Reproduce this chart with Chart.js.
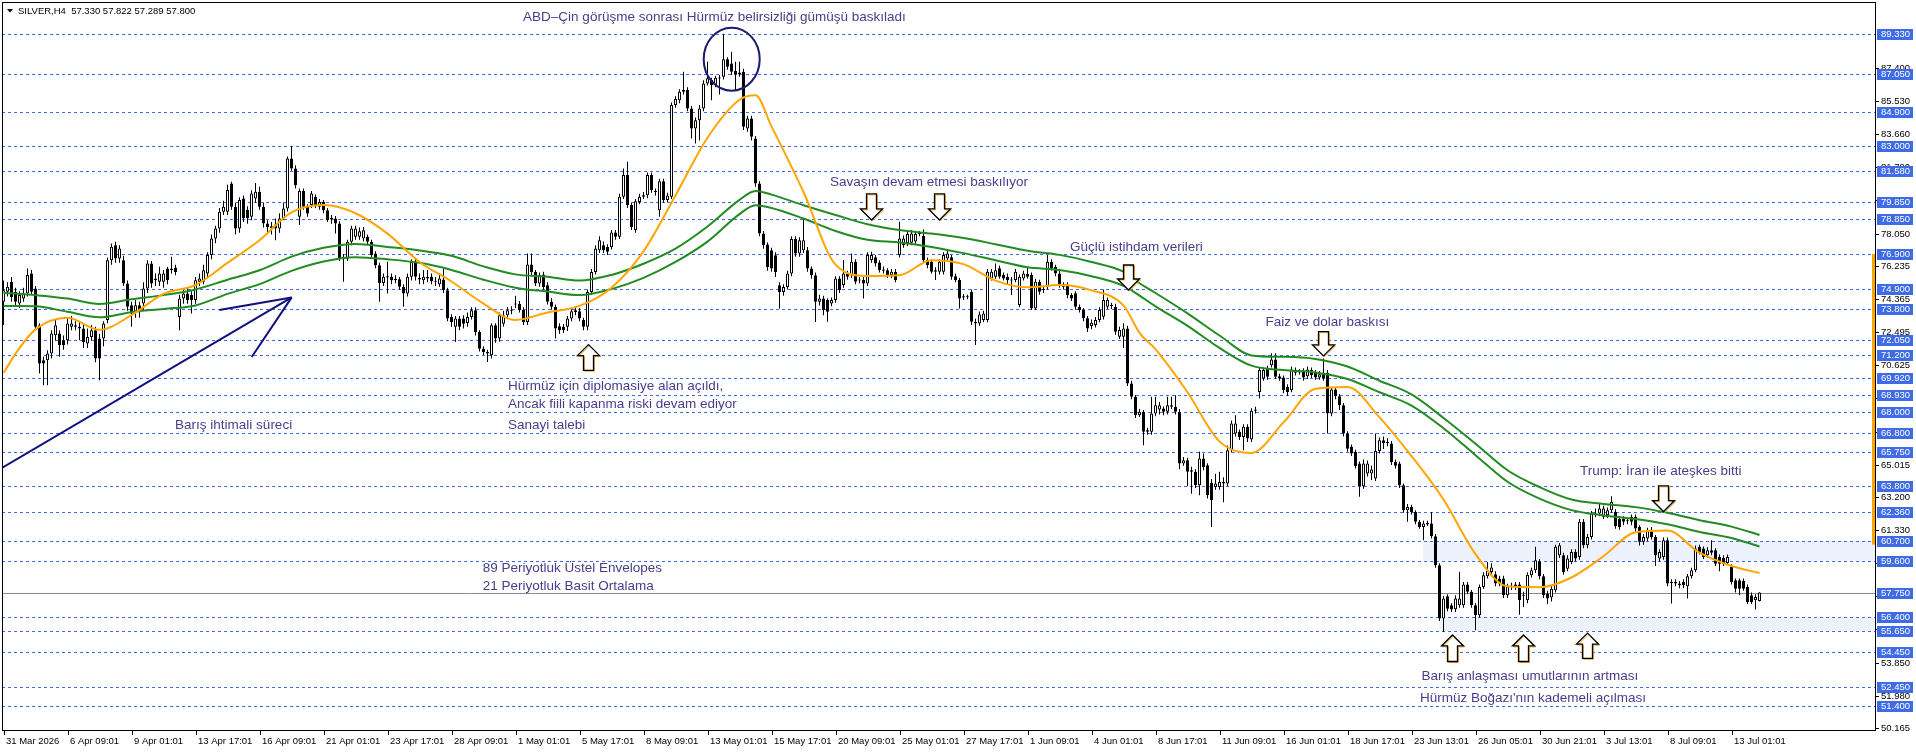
<!DOCTYPE html>
<html>
<head>
<meta charset="utf-8">
<script src="https://cdn.jsdelivr.net/npm/chart.js@4.4.1/dist/chart.umd.min.js"></script>
<style>
  html, body { margin: 0; padding: 0; background: #fff; overflow: hidden; }
  canvas { display: block; }
</style>
</head>
<body>
<canvas id="myChart" width="1916" height="752"></canvas>
<script>
// SILVER H4, 440 bars
const opens = [
74.20,74.77,75.33,74.77,74.11,74.39,74.67,75.80,74.95,72.88,
70.91,70.91,71.28,72.32,72.41,72.04,72.04,72.79,72.88,72.79,
72.70,71.85,72.22,72.60,72.13,72.13,73.17,76.55,77.40,76.64,
76.55,75.24,74.01,73.64,74.01,74.11,74.95,76.37,75.52,75.33,
75.33,76.08,76.08,76.14,73.35,74.39,74.67,74.58,74.30,75.33,
75.33,75.80,76.84,77.78,78.34,79.28,79.28,80.88,79.56,78.34,
80.03,79.38,79.00,80.03,80.41,79.56,78.62,78.34,78.56,78.34,
78.90,79.47,82.29,81.73,79.00,80.45,79.56,79.66,80.13,79.56,
79.84,79.37,78.85,78.90,78.62,76.74,76.65,77.59,77.87,77.87,
77.77,77.87,77.59,76.93,76.27,75.27,75.58,75.61,75.42,75.48,
75.05,74.67,75.61,76.46,75.55,75.42,75.61,75.61,75.38,75.20,
75.46,74.86,73.35,72.79,73.26,73.26,73.01,73.35,73.73,72.50,
71.56,71.37,71.19,72.88,72.13,72.97,73.45,73.70,74.05,74.10,
73.76,73.07,76.31,75.89,75.23,75.74,75.14,74.20,73.92,72.83,
72.79,72.79,73.26,73.63,73.67,73.17,72.79,74.76,75.89,77.11,
77.40,77.30,77.30,78.11,77.87,80.13,81.35,79.66,78.24,79.84,
80.13,80.22,81.35,80.45,79.37,81.01,79.94,80.13,85.30,85.58,
86.15,86.15,85.11,83.98,84.45,85.11,86.52,86.71,86.43,86.80,
86.90,87.88,87.65,87.22,87.03,87.18,83.98,84.55,83.42,80.88,
78.06,77.43,77.11,76.83,75.14,74.76,75.04,75.80,77.74,76.93,
77.11,77.11,76.08,75.70,74.20,74.39,74.30,74.11,74.30,75.52,
75.15,75.80,75.71,76.46,75.40,75.43,75.24,76.56,76.71,76.42,
75.95,75.99,75.71,75.90,76.84,77.41,77.50,77.54,77.60,78.03,
77.91,76.56,76.46,75.90,75.90,75.90,76.65,76.71,75.65,75.43,
74.45,74.52,74.77,72.98,72.98,73.17,73.17,75.52,75.62,76.09,
75.71,75.62,75.45,75.43,74.02,75.52,75.77,75.71,73.83,75.34,
74.87,75.05,76.46,76.18,75.80,75.15,75.15,74.58,74.68,73.92,
73.74,73.27,72.83,72.89,73.17,73.36,73.92,73.96,73.92,72.23,
72.23,72.70,69.60,68.84,67.81,68.00,66.87,66.87,67.90,68.13,
68.18,68.00,68.28,68.28,68.00,65.08,65.27,64.70,64.61,63.85,
65.36,64.98,63.99,63.76,63.76,64.04,63.95,65.83,66.77,66.87,
66.58,67.15,66.43,68.05,69.12,69.88,70.44,70.63,70.95,70.01,
69.93,69.41,69.22,70.35,70.22,70.31,70.01,70.35,70.20,69.93,
70.20,70.20,67.90,69.26,68.88,68.37,66.77,66.02,65.74,65.08,
63.80,64.51,64.51,64.23,65.79,66.39,66.24,66.21,65.17,65.08,
63.85,62.45,62.63,62.35,61.79,61.50,61.64,61.69,60.98,59.34,
56.33,57.59,57.08,56.86,57.08,57.08,58.25,57.84,57.08,56.52,
58.12,58.72,58.96,58.83,58.59,58.59,57.65,58.12,58.25,58.25,
57.62,57.36,58.78,59.06,59.56,58.72,57.74,57.52,57.93,59.90,
59.90,59.15,59.53,60.09,59.81,61.79,60.47,60.94,62.16,62.26,
62.07,62.16,62.45,62.35,61.97,61.97,61.82,62.07,62.07,61.50,
60.66,60.85,61.35,60.94,59.72,59.81,60.75,58.33,58.40,58.21,
58.40,58.15,58.72,59.06,60.37,60.28,59.90,60.19,60.19,59.81,
59.77,59.47,59.25,58.49,58.49,58.45,58.12,57.65,57.36,57.330
];
const highs = [
75.40,75.30,75.60,75.00,74.80,75.00,76.08,76.00,75.10,73.00,
71.10,71.47,72.60,73.20,72.60,72.30,73.30,73.40,73.10,73.10,
72.90,72.70,72.90,72.80,72.40,73.10,76.70,77.49,77.59,77.40,
76.80,75.40,74.20,74.30,74.20,75.30,76.55,76.50,75.80,76.18,
76.00,76.18,76.74,76.30,74.60,74.90,75.00,74.80,75.60,75.80,
76.30,77.00,78.00,78.50,79.50,79.90,80.80,80.98,79.80,80.10,
80.20,79.60,80.50,80.90,80.70,79.80,78.80,78.70,78.90,79.20,
79.80,82.40,82.99,81.90,80.60,80.60,79.70,80.45,80.25,80.00,
79.95,79.50,79.10,79.05,78.75,76.90,77.70,78.50,78.50,78.40,
78.43,78.00,77.70,77.05,76.40,75.80,76.46,75.80,75.70,75.60,
75.20,75.80,76.60,76.65,75.80,76.00,76.00,75.80,75.60,75.80,
76.08,75.00,73.50,73.40,73.40,73.45,73.60,73.90,73.90,72.60,
71.70,71.50,73.00,73.00,73.60,73.70,73.90,73.95,74.55,74.25,
73.90,76.93,76.93,76.00,75.85,75.90,75.30,74.40,74.05,73.00,
72.95,73.40,73.85,73.95,73.85,73.30,74.90,76.05,77.40,77.90,
77.60,77.45,78.25,78.25,80.30,81.73,82.10,79.80,80.00,80.30,
80.40,81.50,81.50,80.60,81.15,81.15,80.35,85.45,85.80,86.20,
87.18,86.30,85.25,84.60,85.30,86.70,87.75,86.85,86.95,87.00,
89.29,88.00,88.31,87.75,87.75,87.35,84.70,84.70,83.55,81.00,
78.20,77.55,77.25,77.00,75.30,75.20,75.95,77.90,77.90,77.85,
78.90,77.30,76.20,75.85,74.60,74.55,74.40,74.45,75.65,75.65,
76.56,75.95,76.93,76.60,75.60,75.60,77.00,77.03,76.85,76.55,
76.20,76.10,76.05,76.05,78.72,77.95,78.20,78.25,78.20,78.20,
78.30,76.70,76.60,76.15,76.60,77.00,77.10,76.85,75.80,75.55,
74.65,74.60,74.90,73.25,73.65,73.70,76.05,76.05,76.37,76.25,
75.85,75.80,75.60,76.05,75.75,75.95,76.15,75.85,75.50,75.45,
75.10,76.84,76.60,76.30,75.95,75.30,75.30,74.70,74.80,74.05,
73.85,73.40,73.20,73.35,73.90,74.90,74.45,74.15,74.10,72.80,
73.00,72.85,69.75,68.95,68.15,68.10,67.10,68.84,68.84,68.55,
68.30,68.84,68.84,68.93,68.15,65.45,65.40,64.90,64.75,65.74,
65.64,65.10,64.20,64.50,64.61,64.30,66.10,67.50,67.81,67.00,
67.30,67.30,68.20,68.28,70.50,70.50,70.60,71.30,71.30,70.15,
70.05,69.55,70.55,70.50,70.40,70.45,70.55,70.50,70.35,70.30,
71.00,70.35,69.40,69.40,69.00,68.50,66.90,66.15,65.85,65.20,
65.30,65.25,64.95,66.77,66.55,66.60,66.50,66.35,65.30,65.20,
63.95,62.80,62.75,62.45,61.90,61.85,61.85,62.35,61.10,59.45,
57.60,57.70,57.20,57.65,58.97,58.40,58.40,57.95,57.20,58.25,
58.95,59.53,59.45,59.00,58.75,58.75,58.30,58.35,58.40,58.40,
57.85,58.95,59.20,60.38,59.70,58.85,57.90,58.20,60.50,60.60,
60.05,59.90,60.25,60.25,61.95,61.95,61.10,62.40,62.54,62.85,
62.70,62.60,63.24,62.50,62.10,62.10,62.00,62.20,62.20,61.60,
61.10,61.45,61.50,61.05,60.25,60.90,60.90,58.55,58.55,58.45,
58.55,58.85,59.20,60.45,60.50,60.40,60.35,60.75,60.30,59.95,
59.90,59.95,59.40,58.60,58.60,58.60,58.25,57.80,57.70,57.822
];
const lows = [
72.90,74.50,74.20,73.95,73.85,74.20,74.50,74.60,72.60,70.16,
69.50,69.50,71.00,72.00,71.10,71.50,71.80,72.60,72.60,72.04,
71.60,71.60,72.00,70.80,69.78,71.70,73.00,76.30,76.40,76.40,
75.10,73.70,72.79,73.30,73.30,73.70,74.70,75.00,75.10,75.10,
75.00,75.20,75.80,75.70,72.60,74.10,74.10,73.54,74.10,75.10,
75.20,75.60,76.60,77.50,78.10,79.10,79.10,79.40,78.00,78.10,
78.70,78.60,78.80,79.80,79.40,78.40,78.06,78.00,77.68,78.10,
78.80,79.30,81.60,80.60,78.53,79.40,79.00,79.50,79.50,79.40,
79.20,78.70,78.60,78.06,76.50,75.33,76.50,77.40,77.70,77.70,
77.60,77.40,76.70,76.10,74.20,75.10,74.67,75.20,75.25,74.90,
73.92,74.50,75.40,75.40,75.20,75.20,75.30,75.20,75.10,75.05,
74.70,73.10,72.80,71.94,72.60,72.70,72.80,73.20,72.30,71.40,
71.20,70.81,71.00,71.90,71.95,72.80,73.30,73.50,73.85,73.60,
72.90,72.90,75.70,75.10,75.05,74.90,74.05,73.75,72.13,72.40,
72.45,72.55,73.10,73.45,73.10,72.60,72.60,74.60,75.75,76.95,
76.95,76.85,77.15,77.70,77.75,80.00,79.50,78.25,78.10,79.70,
80.00,80.05,80.35,80.20,79.00,79.80,79.80,80.00,85.15,85.40,
85.90,84.95,83.42,83.14,83.30,84.95,86.40,85.58,86.30,85.90,
86.75,87.30,87.00,86.15,86.90,83.90,83.80,83.30,80.70,77.90,
77.20,75.95,75.90,75.60,73.82,74.55,74.90,75.65,76.75,76.75,
76.95,75.90,75.50,73.07,74.00,73.45,73.08,73.95,74.15,74.70,
75.00,75.45,75.55,75.20,75.25,74.39,75.10,76.40,76.20,75.85,
75.80,75.55,75.55,75.30,76.70,77.25,77.35,77.40,77.45,77.90,
76.40,76.10,75.80,75.43,75.75,75.75,76.50,75.45,75.30,73.83,
74.30,74.35,72.90,71.76,72.85,73.05,73.05,75.40,75.50,75.50,
75.40,75.20,74.58,75.30,73.90,75.40,75.50,73.74,73.74,74.60,
74.70,74.90,75.95,75.65,75.00,74.90,74.40,74.25,73.75,73.60,
73.10,72.50,72.65,72.75,73.05,73.20,73.80,73.80,72.35,72.10,
71.60,69.45,68.70,67.65,67.70,66.11,66.70,66.70,67.75,67.85,
67.80,67.85,68.15,67.85,64.75,64.95,63.80,63.38,63.70,63.29,
64.70,63.10,61.50,63.60,63.60,62.90,63.80,65.70,66.60,66.40,
65.83,66.30,66.30,67.90,68.75,69.75,69.80,70.50,69.85,69.75,
69.05,68.90,69.10,70.05,70.10,69.75,69.85,69.90,69.80,69.80,
69.75,66.77,67.75,68.70,68.10,66.60,65.75,65.50,64.80,63.20,
63.65,64.35,64.15,64.10,65.65,65.90,66.05,65.00,64.80,63.70,
62.30,61.79,62.20,61.65,61.40,60.75,61.55,60.85,59.20,56.20,
55.58,56.75,56.70,56.70,56.95,56.95,57.70,56.95,55.67,56.40,
58.00,58.60,58.80,58.15,58.15,57.50,57.50,57.95,57.95,56.55,
56.99,57.20,58.65,58.90,58.55,57.50,57.15,57.30,57.80,59.75,
58.80,59.00,59.40,59.55,59.65,60.30,60.30,60.80,62.05,62.10,
61.95,62.00,62.30,61.40,61.35,61.60,61.65,61.60,61.25,60.45,
60.50,60.70,60.80,59.30,59.55,59.65,58.15,57.18,58.15,58.05,
58.05,57.46,58.60,58.95,59.95,59.70,59.75,59.90,59.30,59.00,
59.30,59.35,58.25,57.80,57.65,57.90,57.15,57.15,56.84,57.289
];
const closes = [
74.86,75.05,74.48,74.20,74.58,74.67,75.71,74.77,72.79,70.72,
70.72,71.28,72.41,72.88,71.75,71.75,72.98,72.98,72.79,72.70,
71.94,72.22,72.60,71.00,71.00,72.98,76.55,77.31,76.64,77.21,
75.24,73.92,73.54,74.01,73.64,74.95,76.37,75.24,75.42,75.80,
75.80,75.42,75.99,75.89,74.39,74.67,74.30,74.30,75.42,75.52,
75.99,76.84,77.78,78.34,79.28,79.56,80.51,79.56,78.34,79.94,
78.91,78.91,80.32,80.41,79.56,78.62,78.43,78.47,78.34,78.90,
79.47,82.29,81.73,80.78,80.45,79.56,79.18,80.31,79.66,79.84,
79.37,78.81,78.95,78.62,76.65,76.65,77.59,78.34,78.34,78.19,
78.24,77.59,76.83,76.27,75.27,75.61,75.64,75.42,75.50,75.05,
74.67,75.61,76.46,75.61,75.46,75.61,75.52,75.38,75.33,75.52,
74.86,73.26,73.07,73.26,72.79,72.97,73.35,73.73,72.50,71.56,
71.37,71.28,72.88,72.13,73.45,73.45,73.73,73.76,74.10,73.73,
73.07,76.31,75.89,75.23,75.70,75.04,74.20,73.92,72.69,72.60,
72.60,73.26,73.67,73.73,73.26,72.79,74.76,75.89,77.21,77.68,
77.11,77.02,78.11,77.87,80.13,81.35,79.66,78.43,79.88,80.13,
80.22,81.35,80.50,80.40,81.01,79.94,80.20,85.30,85.64,86.05,
86.05,85.11,83.98,84.45,85.11,86.52,86.81,86.43,86.84,86.86,
87.88,87.47,87.18,87.03,87.14,84.08,84.55,83.51,80.88,78.06,
77.40,76.17,76.08,75.89,74.76,75.04,75.80,77.74,76.93,77.68,
77.68,76.08,75.70,74.20,74.39,73.74,73.64,74.30,75.52,74.87,
75.80,75.62,76.46,75.34,75.46,75.24,76.84,76.84,76.37,75.99,
76.02,75.71,75.90,75.43,77.78,77.78,78.03,78.06,78.03,78.08,
76.56,76.28,75.90,75.99,76.46,76.84,76.93,75.62,75.43,74.39,
74.52,74.49,73.08,73.08,73.49,73.55,75.90,75.90,75.99,75.62,
75.52,75.43,75.40,75.90,75.62,75.80,75.62,73.83,75.34,74.77,
74.93,76.46,76.09,75.80,75.15,75.05,74.58,74.39,73.92,73.74,
73.27,72.70,73.02,73.17,73.74,74.30,74.30,73.99,72.51,72.61,
72.70,69.60,68.84,67.81,68.00,66.87,66.96,67.90,68.37,68.37,
68.00,68.37,68.37,68.00,65.08,65.27,64.61,64.61,63.85,65.36,
64.89,63.29,63.01,63.95,64.04,63.95,65.83,67.34,67.34,66.58,
67.15,66.49,68.05,68.13,70.35,70.35,69.97,70.95,69.97,69.88,
69.22,69.12,70.38,70.20,70.28,69.93,70.38,70.06,69.93,70.12,
69.88,67.90,69.26,68.88,68.37,66.77,65.92,65.64,64.93,63.80,
65.08,65.08,64.74,65.79,66.39,66.24,66.30,65.17,64.95,63.85,
62.44,62.63,62.35,61.79,61.50,61.69,61.73,60.98,59.34,56.33,
57.46,56.89,56.84,57.46,57.46,58.25,57.84,57.08,56.52,58.12,
58.78,59.02,59.21,58.31,58.31,57.65,58.15,58.18,58.12,57.36,
57.68,58.81,59.06,59.62,58.72,57.65,57.46,58.02,60.38,60.47,
58.96,59.72,60.09,59.72,61.79,60.47,60.94,62.26,62.26,62.54,
62.54,62.45,62.92,61.54,61.50,61.79,61.88,61.79,61.41,60.66,
60.94,61.32,60.94,59.90,60.09,60.75,58.31,58.40,58.31,58.31,
58.21,58.72,59.06,60.28,60.09,59.81,60.19,60.04,59.43,59.43,
59.43,59.81,58.40,58.02,58.02,58.02,57.27,57.27,57.55,57.800
];

// indicator values read at these bar numbers
const maIndex = [0,4,8,16,24,32,40,48,56,64,72,80,88,96,104,112,120,128,136,144,152,160,168,176,184,188,192,200,208,216,224,232,240,248,256,264,272,280,284,288,296,304,312,320,328,336,344,352,360,368,376,384,392,400,408,416,424,432,439];
const sma21 = [70.19,71.60,72.65,73.30,72.62,73.45,74.65,75.15,76.40,77.68,79.25,79.66,79.20,78.05,76.45,75.35,74.10,73.18,73.60,73.97,75.00,77.05,80.20,83.46,85.60,85.85,84.10,80.40,76.30,75.66,75.70,76.55,76.33,75.40,75.02,75.15,74.85,74.00,72.45,71.53,69.10,66.33,65.68,67.40,69.30,69.40,67.68,65.50,63.05,59.97,58.15,58.10,58.65,59.85,61.20,61.30,60.05,59.30,58.90];
const envUpper = [74.70,74.65,74.58,74.39,74.08,74.35,74.58,74.90,75.45,75.98,76.75,77.25,77.47,77.30,77.10,76.80,76.20,75.75,75.62,75.40,75.72,76.35,77.20,78.45,79.95,80.45,80.25,79.65,79.10,78.58,78.25,78.05,77.80,77.45,77.08,76.85,76.45,75.90,75.25,74.70,73.55,72.30,71.18,71.10,70.98,70.55,69.75,68.98,67.65,66.20,64.70,63.75,63.05,62.80,62.62,62.30,61.88,61.52,61.05];
const envLower = [73.96,73.96,73.95,73.64,73.33,73.62,73.80,74.00,74.65,75.20,75.95,76.48,76.72,76.60,76.40,76.00,75.45,75.00,74.78,74.58,74.92,75.55,76.45,77.60,79.15,79.65,79.50,78.90,78.20,77.70,77.55,77.30,76.95,76.55,76.15,76.00,75.65,75.10,74.55,73.95,72.85,71.60,70.60,70.35,70.22,69.85,69.10,68.35,67.07,65.55,64.05,63.10,62.45,62.15,61.95,61.65,61.22,60.88,60.40];

const timeLabels = ['31 Mar 2026','6 Apr 09:01','9 Apr 01:01','13 Apr 17:01','16 Apr 09:01','21 Apr 01:01','23 Apr 17:01','28 Apr 09:01','1 May 01:01','5 May 17:01','8 May 09:01','13 May 01:01','15 May 17:01','20 May 09:01','25 May 01:01','27 May 17:01','1 Jun 09:01','4 Jun 01:01','8 Jun 17:01','11 Jun 09:01','16 Jun 01:01','18 Jun 17:01','23 Jun 13:01','26 Jun 05:01','30 Jun 21:01','3 Jul 13:01','8 Jul 09:01','13 Jul 01:01'];
const labelStep = 16;
const priceTicks = [87.400,85.530,83.660,81.790,79.920,78.050,76.235,74.365,72.495,70.625,68.755,66.885,65.015,63.200,61.330,59.460,57.590,55.720,53.850,51.980,50.165];
const levels = [89.33,87.05,84.90,83.00,81.58,79.85,78.85,76.90,74.90,73.80,72.05,71.20,69.92,68.93,68.00,66.80,65.75,63.80,62.36,60.70,59.60,57.75,56.40,55.65,54.45,52.45,51.40];
const priceLine = 57.75;

const TEXT = '#483D8B';
const AXIS_FONT = '9.5px "Liberation Sans", Arial, sans-serif';
const NOTE_FONT = '13.5px "Liberation Sans", Arial, sans-serif';

// chart objects anchored at (bar, price)
const zones = [
  { from: 354.9, hi: 60.70, lo: 59.60 },
  { from: 358.9, hi: 56.40, lo: 55.65 }
];
const notes = [
  { t: 'ABD\u2013Çin görüşme sonrası Hürmüz belirsizliği gümüşü baskıladı', i: 129.9, p: 90.27 },
  { t: 'Savaşın devam etmesi baskılıyor', i: 206.6, p: 80.96 },
  { t: 'Güçlü istihdam verileri', i: 266.6, p: 77.30 },
  { t: 'Faiz ve dolar baskısı', i: 315.5, p: 73.03 },
  { t: 'Trump: İran ile ateşkes bitti', i: 394.1, p: 64.62 },
  { t: 'Hürmüz için diplomasiye alan açıldı,', i: 126.1, p: 69.45 },
  { t: 'Ancak fiili kapanma riski devam ediyor', i: 126.1, p: 68.44 },
  { t: 'Sanayi talebi', i: 126.1, p: 67.26 },
  { t: 'Barış ihtimali süreci', i: 42.9, p: 67.26 },
  { t: '89 Periyotluk Üstel Envelopes', i: 119.8, p: 59.18 },
  { t: '21 Periyotluk Basit Ortalama', i: 119.8, p: 58.14 },
  { t: 'Barış anlaşması umutlarının artması', i: 354.5, p: 53.09 },
  { t: 'Hürmüz Boğazı\'nın kademeli açılması', i: 354.1, p: 51.84 }
];
// base price -> tip price
const arrows = [
  { i: 216.9, base: 80.29, tip: 78.82 },
  { i: 233.9, base: 80.29, tip: 78.82 },
  { i: 281.0, base: 76.28, tip: 74.87 },
  { i: 329.95, base: 72.52, tip: 71.15 },
  { i: 414.75, base: 63.82, tip: 62.37 },
  { i: 146.1, base: 70.34, tip: 71.79 },
  { i: 362.05, base: 53.91, tip: 55.41 },
  { i: 379.9, base: 53.91, tip: 55.41 },
  { i: 395.9, base: 54.09, tip: 55.51 }
];
const trendLines = [
  [[-0.875, 64.77], [72.05, 74.45]],
  [[53.95, 73.74], [72.05, 74.45]],
  [[62.05, 71.09], [72.05, 74.45]]
];
const circle = { i: 182.05, p: 87.89 };

function blockArrow(ctx, cx, yBase, yTip) {
  const dir = yTip > yBase ? 1 : -1;
  const neck = yTip - dir * 11;
  ctx.beginPath();
  ctx.moveTo(cx - 5, yBase);
  ctx.lineTo(cx + 5, yBase);
  ctx.lineTo(cx + 5, neck);
  ctx.lineTo(cx + 11, neck);
  ctx.lineTo(cx, yTip);
  ctx.lineTo(cx - 11, neck);
  ctx.lineTo(cx - 5, neck);
  ctx.closePath();
}

const mt4Look = {
  id: 'mt4Look',
  beforeDraw(chart) {
    const { ctx, width, height } = chart;
    ctx.save();
    ctx.fillStyle = '#fff';
    ctx.fillRect(0, 0, width, height);
    ctx.restore();
  },
  beforeDatasetsDraw(chart) {
    const { ctx, chartArea: a, scales: { x, y } } = chart;
    ctx.save();
    ctx.fillStyle = '#ECF1FB';
    zones.forEach(z => {
      const left = x.getPixelForValue(z.from);
      const top = y.getPixelForValue(z.hi), bot = y.getPixelForValue(z.lo);
      ctx.fillRect(left, top, a.right - left, bot - top);
    });
    ctx.lineWidth = 1;
    levels.forEach(v => {
      const py = Math.round(y.getPixelForValue(v)) + 0.5;
      if (v === priceLine) {
        ctx.setLineDash([]);
        ctx.strokeStyle = '#7F8CA6';
      } else {
        ctx.setLineDash([3, 3]);
        ctx.strokeStyle = '#3F6BE6';
      }
      ctx.beginPath();
      ctx.moveTo(a.left, py);
      ctx.lineTo(a.right, py);
      ctx.stroke();
    });
    ctx.restore();
  },
  afterDatasetsDraw(chart) {
    const { ctx, chartArea: a, scales: { x, y } } = chart;
    ctx.save();
    ctx.beginPath();
    ctx.rect(a.left, a.top, a.right - a.left, a.bottom - a.top);
    ctx.clip();

    // trend lines
    ctx.strokeStyle = '#10107E';
    ctx.lineWidth = 2;
    trendLines.forEach(([p1, p2]) => {
      ctx.beginPath();
      ctx.moveTo(x.getPixelForValue(p1[0]), y.getPixelForValue(p1[1]));
      ctx.lineTo(x.getPixelForValue(p2[0]), y.getPixelForValue(p2[1]));
      ctx.stroke();
    });

    // circle round the top
    ctx.strokeStyle = '#1A1A6E';
    ctx.lineWidth = 2;
    ctx.beginPath();
    ctx.ellipse(x.getPixelForValue(circle.i), y.getPixelForValue(circle.p), 28, 31.5, 0, 0, Math.PI * 2);
    ctx.stroke();

    // arrows
    arrows.forEach(ar => {
      const cx = Math.round(x.getPixelForValue(ar.i)) + 0.5;
      const yb = y.getPixelForValue(ar.base), yt = y.getPixelForValue(ar.tip);
      blockArrow(ctx, cx, yb, yt);
      ctx.fillStyle = '#fff';
      ctx.fill();
      ctx.save();
      ctx.translate(1, 1);
      blockArrow(ctx, cx, yb, yt);
      ctx.strokeStyle = '#F2A93B';
      ctx.lineWidth = 1;
      ctx.stroke();
      ctx.restore();
      blockArrow(ctx, cx, yb, yt);
      ctx.strokeStyle = '#000';
      ctx.lineWidth = 1.3;
      ctx.stroke();
    });

    // texts
    ctx.font = NOTE_FONT;
    ctx.fillStyle = TEXT;
    ctx.textAlign = 'left';
    ctx.textBaseline = 'middle';
    notes.forEach(n => {
      ctx.fillText(n.t, x.getPixelForValue(n.i), y.getPixelForValue(n.p));
    });
    ctx.restore();
  },
  afterDraw(chart) {
    const { ctx, chartArea: a, scales: { x, y } } = chart;
    ctx.save();

    // orange bar on the right edge
    const oTop = y.getPixelForValue(76.90), oBot = y.getPixelForValue(60.50);
    ctx.fillStyle = '#FFA500';
    ctx.fillRect(a.right - 4, oTop, 4, oBot - oTop);

    // frame
    ctx.strokeStyle = '#000';
    ctx.lineWidth = 1;
    ctx.strokeRect(a.left + 0.5, a.top - 0.5, a.right - a.left - 1, a.bottom - a.top);

    // time axis
    ctx.font = AXIS_FONT;
    ctx.fillStyle = '#000';
    ctx.textAlign = 'left';
    ctx.textBaseline = 'middle';
    timeLabels.forEach((lab, k) => {
      const px = Math.round(x.getPixelForValue(k * labelStep)) + 0.5;
      ctx.beginPath();
      ctx.moveTo(px, a.bottom);
      ctx.lineTo(px, a.bottom + 4);
      ctx.stroke();
      ctx.fillText(lab, px + 1.5, a.bottom + 10);
    });

    // price axis
    priceTicks.forEach(v => {
      const py = Math.round(y.getPixelForValue(v)) + 0.5;
      ctx.beginPath();
      ctx.moveTo(a.right, py);
      ctx.lineTo(a.right + 3, py);
      ctx.stroke();
      ctx.fillText(v.toFixed(3), a.right + 5, py);
    });
    levels.forEach(v => {
      const py = Math.round(y.getPixelForValue(v));
      ctx.fillStyle = '#3F6BE6';
      ctx.fillRect(a.right + 1, py - 5, 36, 11);
      ctx.fillStyle = '#fff';
      ctx.fillText(v.toFixed(3), a.right + 5, py + 0.5);
    });

    // header
    ctx.fillStyle = '#000';
    ctx.beginPath();
    ctx.moveTo(7, 9);
    ctx.lineTo(13, 9);
    ctx.lineTo(10, 12.5);
    ctx.closePath();
    ctx.fill();
    const n = opens.length - 1;
    ctx.fillText('SILVER,H4  ' + opens[n].toFixed(3) + ' ' + highs[n].toFixed(3) + ' ' + lows[n].toFixed(3) + ' ' + closes[n].toFixed(3), 18, 11);
    ctx.restore();
  }
};

const bodyColors = opens.map((o, i) => closes[i] >= o ? '#ffffff' : '#000000');
const maPoints = vals => maIndex.map((bar, k) => ({ x: bar, y: vals[k] }));

const ctx = document.getElementById('myChart');
window.myChart = new Chart(ctx, {
  type: 'bar',
  data: {
    datasets: [
      {
        type: 'line',
        label: '21 SMA',
        data: maPoints(sma21),
        borderColor: '#FFA500',
        borderWidth: 2,
        pointRadius: 0,
        cubicInterpolationMode: 'monotone',
        order: 0
      },
      {
        type: 'line',
        label: 'Envelope up',
        data: maPoints(envUpper),
        borderColor: '#228B22',
        borderWidth: 2,
        pointRadius: 0,
        cubicInterpolationMode: 'monotone',
        order: 0
      },
      {
        type: 'line',
        label: 'Envelope down',
        data: maPoints(envLower),
        borderColor: '#228B22',
        borderWidth: 2,
        pointRadius: 0,
        cubicInterpolationMode: 'monotone',
        order: 0
      },
      {
        label: 'body',
        data: opens.map((o, i) => ({ x: i, y: [Math.min(o, closes[i]), Math.max(o, closes[i])] })),
        backgroundColor: bodyColors,
        borderColor: '#000',
        borderWidth: 1,
        borderSkipped: false,
        barThickness: 3,
        minBarLength: 1,
        inflateAmount: 0,
        grouped: false,
        order: 1
      },
      {
        label: 'wick',
        data: lows.map((l, i) => ({ x: i, y: [l, highs[i]] })),
        backgroundColor: '#000',
        borderWidth: 0,
        barThickness: 1,
        inflateAmount: 0,
        grouped: false,
        order: 2
      }
    ]
  },
  options: {
    responsive: false,
    animation: false,
    devicePixelRatio: 1,
    layout: { padding: { left: 2, top: 3, right: 40, bottom: 21 } },
    plugins: {
      legend: { display: false },
      tooltip: { enabled: false }
    },
    scales: {
      x: { type: 'linear', min: -0.375, max: 468.125, offset: false, display: false },
      y: { min: 49.99, max: 91.06, display: false }
    }
  },
  plugins: [mt4Look]
});
</script>
</body>
</html>
